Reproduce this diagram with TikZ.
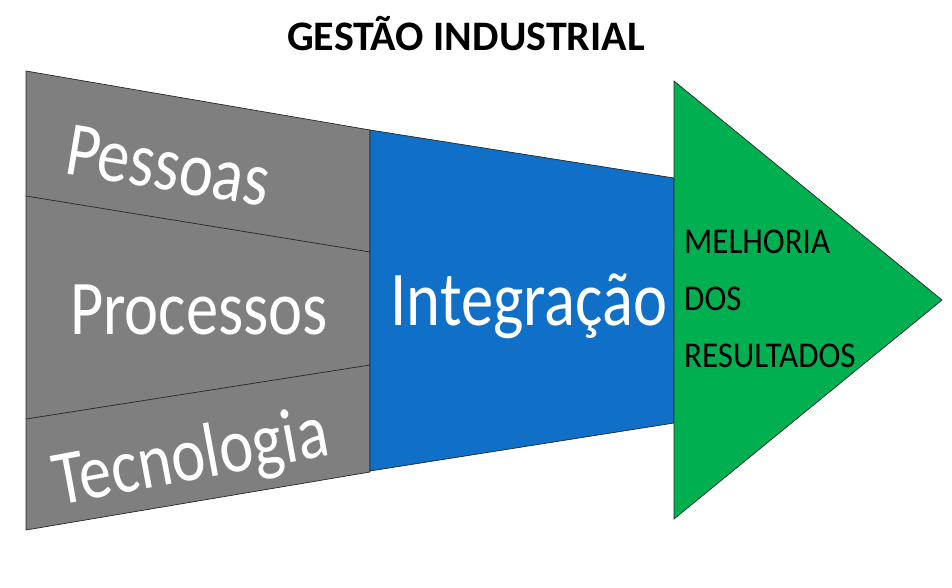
\documentclass[tikz,border=0pt]{standalone}
\usepackage{fontspec}
\usepackage{graphicx}
\setmainfont{Carlito}
\definecolor{gbox}{HTML}{7F7F7F}
\definecolor{bbox}{HTML}{1070C8}
\definecolor{garrow}{HTML}{00B050}
\newcommand{\tallt}[1]{\scalebox{1}[1.2]{#1}}
\begin{document}
\begin{tikzpicture}[x=1pt,y=-1pt,
  outline/.style={draw=black!85,line width=0.7pt,line join=miter},
  wlabel/.style={text=white,inner sep=0pt,anchor=base,font=\fontsize{64.5}{64.5}\selectfont},
  klabel/.style={text=black,inner sep=0pt,anchor=base west,font=\fontsize{33}{33}\selectfont}]
\useasboundingbox (0,0) rectangle (952,587);
% gray block
\path[outline,fill=gbox] (26,71) -- (370,130) -- (370,472) -- (26,530) -- cycle;
\draw[outline] (26,196) -- (370,252);
\draw[outline] (26,419) -- (370,365);
% blue block
\path[outline,fill=bbox] (370,130) -- (674,178) -- (674,423) -- (370,471) -- cycle;
% green triangle
\path[outline,fill=garrow] (674,81) -- (942,300) -- (674,519) -- cycle;
% texts
\node[font=\bfseries\fontsize{42}{42}\selectfont,anchor=base,inner sep=0pt] (title) at (466,50) {GESTÃO INDUSTRIAL};
\node[wlabel,rotate=-9.5] (pessoas) at (164,190) {\tallt{Pessoas}};
\node[wlabel] (processos) at (199,334) {\tallt{Processos}};
\node[wlabel,rotate=10.5] (tecno) at (195,480) {\tallt{Tecnologia}};
\node[wlabel] (integ) at (529,325) {\tallt{Integração}};
\node[klabel] (m1) at (684,253) {\scalebox{1}[1.1]{MELHORIA}};
\node[klabel] (m2) at (684,310) {\scalebox{1}[1.1]{DOS}};
\node[klabel] (m3) at (684,367) {\scalebox{1}[1.1]{RESULTADOS}};
\end{tikzpicture}
\end{document}
